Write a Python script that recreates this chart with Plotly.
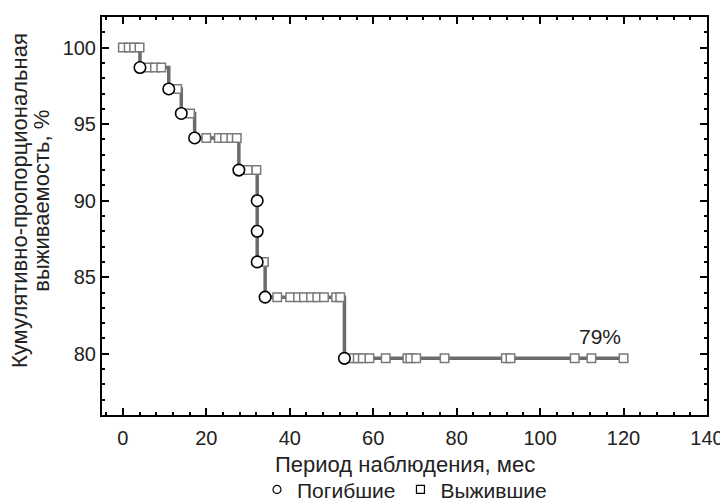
import plotly.graph_objects as go

# Event (death) times, months, and the survival level after each event, %
death_times = [4.1, 11.0, 14.0, 17.2, 27.8, 32.2, 32.2, 32.2, 34.1, 53.1]
death_surv = [98.7, 97.3, 95.7, 94.1, 92.0, 90.0, 88.0, 86.0, 83.7, 79.7]

# Censored (survived) observations: time, months, and the curve level, %
cens_times = [0.0, 1.4, 2.7, 4.0,
              6.1, 7.7, 9.2,
              13.0,
              16.1,
              20.0, 23.0, 24.5, 26.0, 27.3,
              30.0, 32.0,
              33.8,
              37.0, 40.1, 42.0, 43.4, 45.1, 46.6, 48.2, 51.1, 52.1,
              55.1, 56.3, 57.5, 59.1, 63.0, 68.2, 68.9, 70.3, 77.1, 91.8, 92.9, 108.3, 112.3, 120.0]
cens_surv = [100, 100, 100, 100,
             98.7, 98.7, 98.7,
             97.3,
             95.7,
             94.1, 94.1, 94.1, 94.1, 94.1,
             92.0, 92.0,
             86.0,
             83.7, 83.7, 83.7, 83.7, 83.7, 83.7, 83.7, 83.7, 83.7,
             79.7, 79.7, 79.7, 79.7, 79.7, 79.7, 79.7, 79.7, 79.7, 79.7, 79.7, 79.7, 79.7, 79.7]

start_time, start_surv = 0.0, 100.0
end_time = 120.0
final_label = "79%"

x_ticks = [0, 20, 40, 60, 80, 100, 120, 140]
y_ticks = [80, 85, 90, 95, 100]

x_title = "Период наблюдения, мес"
y_title_lines = ["Кумулятивно-пропорциональная", "выживаемость, %"]

FONT = "Liberation Sans, Arial, Helvetica, sans-serif"
FS_TICK = 20
FS_TITLE = 22
FS_LEG = 21
TXT = "#222222"
LINE_GRAY = "#6b6b6b"

curve_x = [start_time] + death_times + [end_time]
curve_y = [start_surv] + death_surv + [death_surv[-1]]

fig = go.Figure()
fig.add_trace(go.Scatter(x=curve_x, y=curve_y, mode="lines", line=dict(color=LINE_GRAY, width=3.5, shape="hv"),
                         showlegend=False, hoverinfo="skip"))
fig.add_trace(go.Scatter(x=cens_times, y=cens_surv, mode="markers",
                         marker=dict(symbol="square", size=8.5, color="white", line=dict(color="#7a7a7a", width=1.5)),
                         showlegend=False))
fig.add_trace(go.Scatter(x=death_times, y=death_surv, mode="markers",
                         marker=dict(symbol="circle", size=11.5, color="white", line=dict(color="black", width=1.6)),
                         showlegend=False))
# legend entries
fig.add_trace(go.Scatter(x=[None], y=[None], mode="markers", name="Погибшие",
                         marker=dict(symbol="circle", size=8, color="white", line=dict(color="black", width=1.2))))
fig.add_trace(go.Scatter(x=[None], y=[None], mode="markers", name="Выжившие",
                         marker=dict(symbol="square", size=8, color="white", line=dict(color="black", width=1.2))))

fig.add_annotation(x=114.4, y=81.1, text=final_label, showarrow=False,
                   font=dict(family=FONT, size=FS_LEG, color=TXT))
fig.add_annotation(xref="paper", yref="paper", x=0.5, y=-0.1256, text=x_title, showarrow=False,
                   xanchor="center", yanchor="middle", font=dict(family=FONT, size=FS_TITLE, color=TXT))
for line_text, xp in zip(y_title_lines, [-0.1355, -0.0995]):
    fig.add_annotation(xref="paper", yref="paper", x=xp, y=0.5377, text=line_text, showarrow=False,
                       textangle=-90, xanchor="center", yanchor="middle",
                       font=dict(family=FONT, size=FS_TITLE, color=TXT))

axis_common = dict(showgrid=False, zeroline=False, showline=True, linecolor="black", linewidth=2,
                   mirror="ticks", ticks="inside", tickcolor="black", tickwidth=2, ticklen=7,
                   tickfont=dict(family=FONT, size=FS_TICK, color=TXT), automargin=False)
fig.update_xaxes(range=[-5, 140], tickvals=x_ticks, ticklabelstandoff=4,
                 minor=dict(dtick=4, tick0=0, ticks="inside", ticklen=3, tickwidth=1.5, tickcolor="black"),
                 **axis_common)
fig.update_yaxes(range=[76, 102], tickvals=y_ticks, ticklabelstandoff=0,
                 minor=dict(dtick=1, tick0=0, ticks="inside", ticklen=3, tickwidth=1.5, tickcolor="black"),
                 **axis_common)

# page body adds an 8px margin, so the figure is 720x496 to fill the 728x504 window
fig.update_layout(width=720, height=496, margin=dict(l=94, r=21, t=9, b=89, autoexpand=False),
                  plot_bgcolor="white", paper_bgcolor="white",
                  font=dict(family=FONT, size=FS_TICK, color=TXT),
                  legend=dict(orientation="h", x=0.5, xanchor="center", y=-0.188, yanchor="middle",
                              font=dict(family=FONT, size=FS_LEG, color=TXT),
                              tracegroupgap=0, bgcolor="rgba(0,0,0,0)"))

fig.write_html("out.html")
